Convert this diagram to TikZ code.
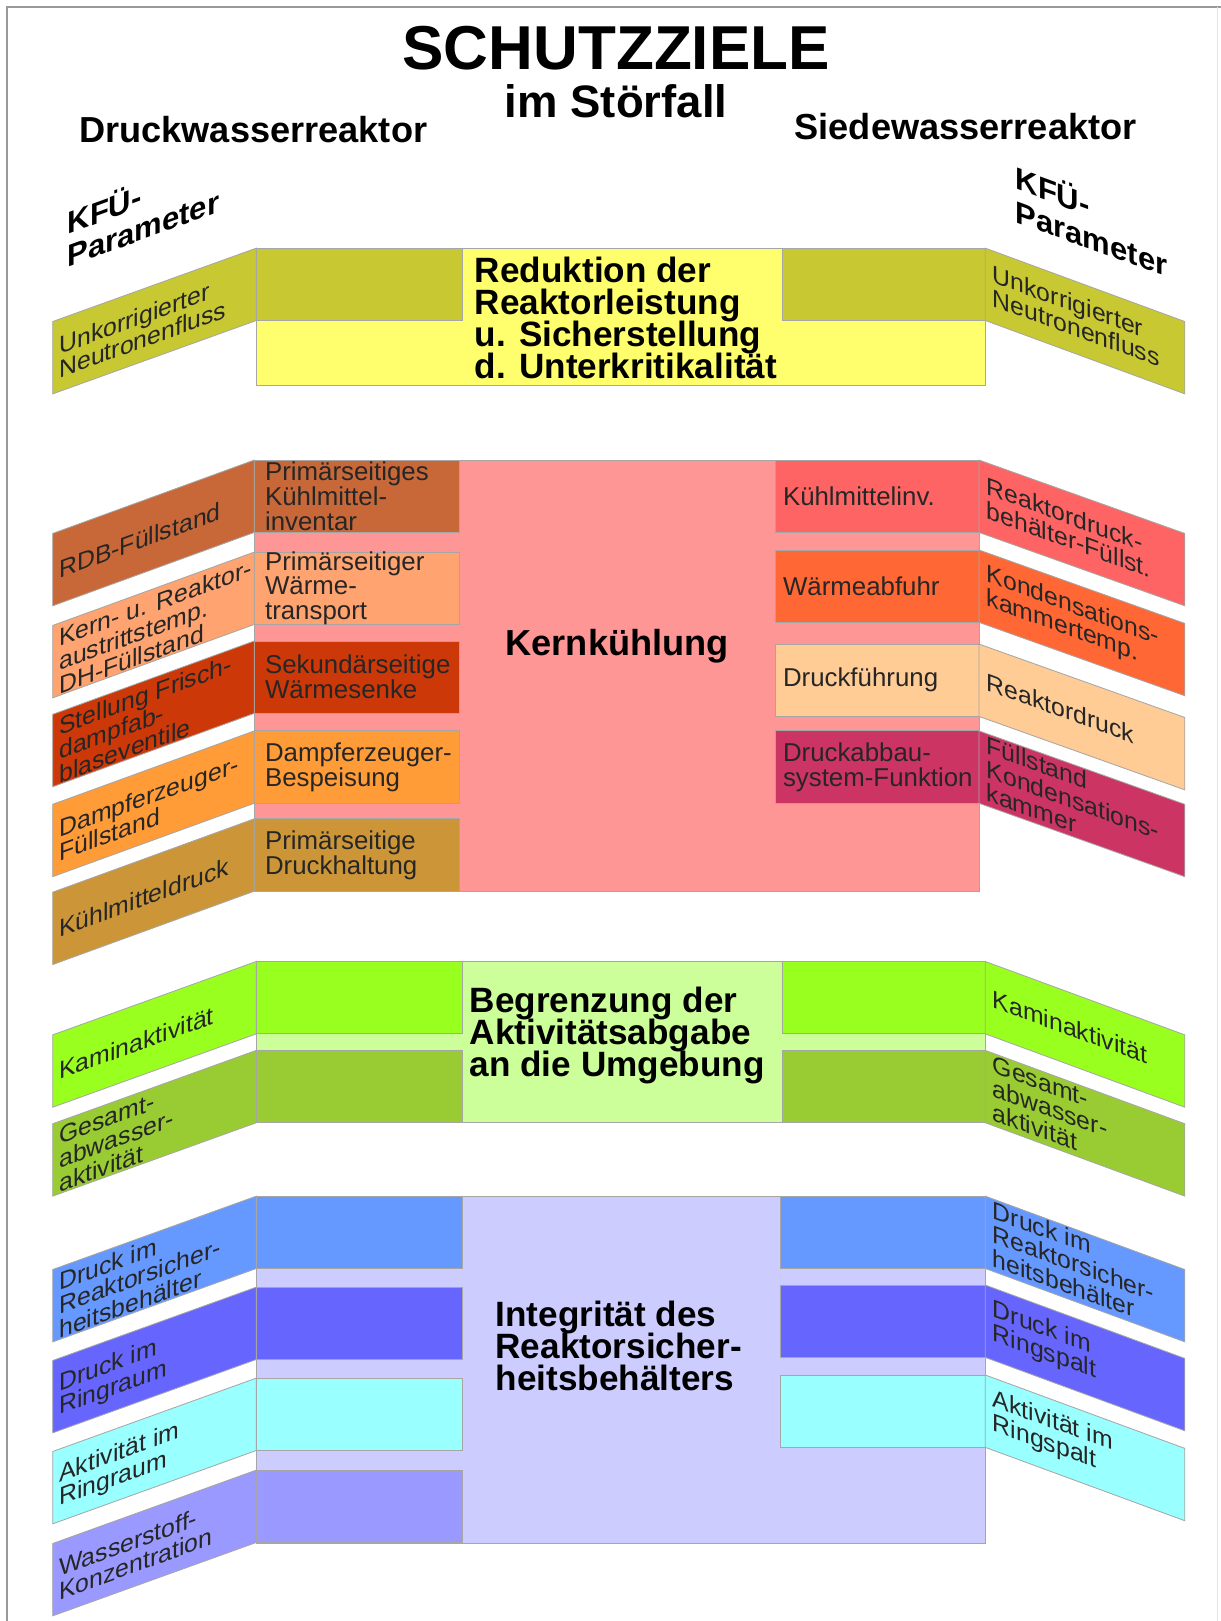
\documentclass[tikz,border=0pt]{standalone}
\usepackage{fontspec}
\setmainfont{Liberation Sans}
\setlength{\lineskiplimit}{-20pt}

\definecolor{olv}{RGB}{200,200,50}
\definecolor{ylw}{RGB}{255,255,110}
\definecolor{kbg}{RGB}{255,150,150}
\definecolor{kbrn}{RGB}{200,104,56}
\definecolor{ksal}{RGB}{255,164,112}
\definecolor{kred}{RGB}{204,56,8}
\definecolor{korg}{RGB}{255,156,56}
\definecolor{kocr}{RGB}{204,150,56}
\definecolor{kcor}{RGB}{255,100,100}
\definecolor{kor2}{RGB}{255,104,52}
\definecolor{kpch}{RGB}{255,204,150}
\definecolor{kmag}{RGB}{204,52,100}
\definecolor{gbg}{RGB}{204,255,153}
\definecolor{gbr}{RGB}{153,255,30}
\definecolor{gol}{RGB}{153,204,51}
\definecolor{bbg}{RGB}{204,204,255}
\definecolor{bl1}{RGB}{102,153,255}
\definecolor{bl2}{RGB}{102,102,255}
\definecolor{bcy}{RGB}{153,255,255}
\definecolor{bl4}{RGB}{153,153,255}

\tikzset{
  box/.style={draw=black!35,line width=0.4pt},
  goal/.style={font=\fontsize{17}{15.5}\selectfont\bfseries,align=left,inner sep=0pt,anchor=north west},
  sublbl/.style={font=\fontsize{12.5}{12}\selectfont,align=left,inner sep=0pt,anchor=west,text=black!85},
  parlbl/.style={font=\fontsize{12}{11.5}\selectfont,align=left,inner sep=0pt,anchor=west,text=black!85},
  head/.style={font=\fontsize{17.5}{20}\selectfont\bfseries},
  kfu/.style={font=\fontsize{15}{16}\selectfont\bfseries,align=left,inner sep=0pt,anchor=west}
}

\begin{document}
\begin{tikzpicture}[x=0.5pt,y=-0.5pt]
  \useasboundingbox (0,0) rectangle (1181,1568);
  \draw[black!40,line width=1pt] (7,1568) -- (7,7) -- (1181,7);
  \draw[black!10] (1178,7) -- (1178,1568);
  % headings
  \node[font=\fontsize{30}{30}\selectfont\bfseries] (title) at (596,47) {SCHUTZZIELE};
  \node[font=\fontsize{22}{22}\selectfont\bfseries] (sub) at (596,98) {im Störfall};
  \node[head] (dwr) at (245,125) {Druckwasserreaktor};
  \node[head] (swr) at (934,122) {Siedewasserreaktor};
  \node[kfu,yslant=0.364] (kfuL) at (65,230) {KFÜ-\\Parameter};
  \node[kfu,yslant=-0.364] (kfuR) at (982,186) {KFÜ-\\Parameter};
  % central boxes
  \filldraw[box,fill=ylw] (248,240) rectangle (953,373);
  \filldraw[box,fill=olv] (248,240) rectangle (447,310);
  \filldraw[box,fill=olv] (757,240) rectangle (953,310);
  \filldraw[box,fill=kbg] (246,445) rectangle (947,862);
  \filldraw[box,fill=gbg] (248,930) rectangle (953,1086);
  \foreach \c/\ya in {gbr/930,gol/1016}{
    \filldraw[box,fill=\c] (248,\ya) rectangle (447,\ya+70);
    \filldraw[box,fill=\c] (757,\ya) rectangle (953,\ya+70);}
  \filldraw[box,fill=bbg] (248,1157) rectangle (953,1493);
  \foreach \c/\ya in {bl1/1157,bl2/1245,bcy/1333,bl4/1422}{\filldraw[box,fill=\c] (248,\ya) rectangle (447,\ya+70);}
  \foreach \c/\ya in {bl1/1157,bl2/1243,bcy/1330}{\filldraw[box,fill=\c] (755,\ya) rectangle (953,\ya+70);}
  % kernkuehlung sub boxes
  \foreach \n/\c/\ya/\txt in {1/kbrn/445/{Primärseitiges\\Kühlmittel-\\inventar},2/ksal/534/{Primärseitiger\\Wärme-\\transport},
    3/kred/620/{Sekundärseitige\\Wärmesenke},4/korg/707/{Dampferzeuger-\\Bespeisung},5/kocr/792/{Primärseitige\\Druckhaltung}}{
    \filldraw[box,fill=\c] (246,\ya) rectangle (444,\ya+70);
    \node[sublbl] (SL\n) at (256,\ya+35) {\txt};}
  \foreach \n/\c/\ya/\txt in {1/kcor/445/{Kühlmittelinv.},2/kor2/532/{Wärmeabfuhr},3/kpch/623/{Druckführung},4/kmag/707/{Druckabbau-\\system-Funktion}}{
    \filldraw[box,fill=\c] (750,\ya) rectangle (947,\ya+70);
    \node[sublbl] (SR\n) at (757,\ya+35) {\txt};}
  % KFUe parameters, left side
  \foreach \n/\c/\xr/\ya/\txt in {1/olv/248/240/{Unkorrigierter\\Neutronenfluss},2/kbrn/246/445/{RDB-Füllstand},
    3/ksal/246/534/{Kern- u. Reaktor-\\austrittstemp.\\DH-Füllstand},4/kred/246/620/{Stellung Frisch-\\dampfab-\\blaseventile},
    5/korg/246/707/{Dampferzeuger-\\Füllstand},6/kocr/246/792/{Kühlmitteldruck},7/gbr/248/930/{Kaminaktivität},
    8/gol/248/1016/{Gesamt-\\abwasser-\\aktivität},9/bl1/248/1157/{Druck im\\Reaktorsicher-\\heitsbehälter},
    10/bl2/248/1245/{Druck im\\Ringraum},11/bcy/248/1333/{Aktivität im\\Ringraum},12/bl4/248/1422/{Wasserstoff-\\Konzentration}}{
    \filldraw[box,fill=\c] (\xr,\ya) -- (\xr,\ya+70) -- (51,\ya+141) -- (51,\ya+71) -- cycle;
    \node[parlbl,yslant=0.364] (PL\n) at (57,\ya+106) {\txt};}
  % KFUe parameters, right side
  \foreach \n/\c/\xl/\ya/\txt in {1/olv/953/240/{Unkorrigierter\\Neutronenfluss},2/kcor/947/445/{Reaktordruck-\\behälter-Füllst.},
    3/kor2/947/532/{Kondensations-\\kammertemp.},4/kpch/947/623/{Reaktordruck},5/kmag/947/707/{Füllstand\\Kondensations-\\kammer},
    6/gbr/953/930/{Kaminaktivität},7/gol/953/1016/{Gesamt-\\abwasser-\\aktivität},8/bl1/953/1157/{Druck im\\Reaktorsicher-\\heitsbehälter},
    9/bl2/953/1243/{Druck im\\Ringspalt},10/bcy/953/1330/{Aktivität im\\Ringspalt}}{
    \filldraw[box,fill=\c] (\xl,\ya) -- (\xl,\ya+70) -- (1146,\ya+141) -- (1146,\ya+71) -- cycle;
    \node[parlbl,yslant=-0.364] (PR\n) at (\xl+7,\ya+36) {\txt};}
  % protection goals
  \node[goal] (red) at (459,248) {Reduktion der\\Reaktorleistung\\u. Sicherstellung\\d. Unterkritikalität};
  \node[font=\fontsize{17.5}{15.5}\selectfont\bfseries] (kern) at (597,625) {Kernkühlung};
  \node[goal] (begr) at (454,954) {Begrenzung der\\Aktivitätsabgabe\\an die Umgebung};
  \node[goal] (integ) at (479,1258) {Integrität des\\Reaktorsicher-\\heitsbehälters};
\end{tikzpicture}
\end{document}
